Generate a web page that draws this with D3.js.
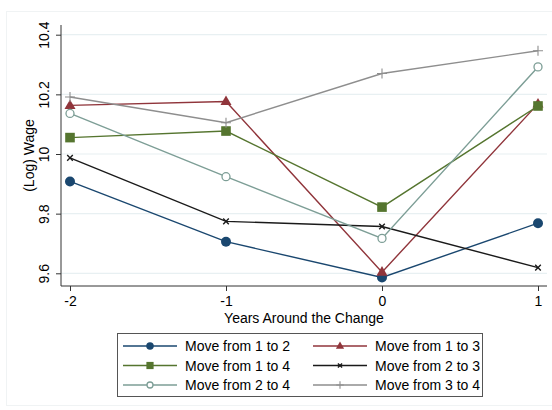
<!DOCTYPE html>
<html>
<head>
<meta charset="utf-8">
<script src="https://cdn.jsdelivr.net/npm/d3@7"></script>
<style>
  html, body { margin: 0; padding: 0; background: #fff; }
  svg { display: block; font-family: "Liberation Sans", Arial, sans-serif; }
</style>
</head>
<body>
<svg id="chart" width="552" height="410"></svg>
<script>
// Years relative to the occupational change
const years = [-2, -1, 0, 1];
const yTicks = [9.6, 9.8, 10, 10.2, 10.4];

// Mean log wage by move type
const move12 = [9.908, 9.706, 9.586, 9.768];
const move13 = [10.163, 10.176, 9.604, 10.168];
const move14 = [10.055, 10.077, 9.822, 10.161];
const move23 = [9.987, 9.774, 9.757, 9.619];
const move24 = [10.136, 9.924, 9.717, 10.292];
const move34 = [10.191, 10.105, 10.270, 10.346];

const seriesNames = ["Move from 1 to 2", "Move from 1 to 3", "Move from 1 to 4",
                     "Move from 2 to 3", "Move from 2 to 4", "Move from 3 to 4"];
const seriesValues = [move12, move13, move14, move23, move24, move34];

const styles = [
  { color: "#1a476f", symbol: "circle" },
  { color: "#90353b", symbol: "triangle" },
  { color: "#55752f", symbol: "square" },
  { color: "#1a1a1a", symbol: "x" },
  { color: "#7d9e96", symbol: "hollow" },
  { color: "#8e8e8e", symbol: "plus" }
];

const svg = d3.select("#chart");
const fs = 14;

// faint outer frame of the graph region
svg.append("rect").attr("x", 6.5).attr("y", 11.5).attr("width", 560).attr("height", 394)
  .attr("fill", "none").attr("stroke", "#f0f3f4");

const x = d3.scaleLinear().domain([-2, 1]).range([70, 538]);
const y = d3.scaleLinear().domain([9.6, 10.4]).range([273.3, 34.7]);
const plotLeft = 61, plotRight = 547, plotBottom = 286, plotTop = 25;

// horizontal grid
svg.append("g").selectAll("line").data(yTicks).join("line")
  .attr("x1", plotLeft).attr("x2", plotRight)
  .attr("y1", d => y(d)).attr("y2", d => y(d))
  .attr("stroke", "#e8f0f2").attr("stroke-width", 1.2);

// y axis
const yAxis = svg.append("g").attr("transform", `translate(${plotLeft},0)`)
  .call(d3.axisLeft(y).tickValues(yTicks).tickSize(5).tickFormat(d => String(d)));
yAxis.select(".domain").attr("d", `M0,${plotTop}V${plotBottom}`).attr("stroke", "#333");
yAxis.selectAll(".tick line").attr("stroke", "#333");
yAxis.selectAll(".tick text")
  .attr("font-size", fs).attr("fill", "#000")
  .attr("x", null).attr("dy", null)
  .attr("text-anchor", "middle")
  .attr("transform", "translate(-12.5,0) rotate(-90)");

// x axis (plain hyphen for negative years)
const xAxis = svg.append("g").attr("transform", `translate(0,${plotBottom})`)
  .call(d3.axisBottom(x).tickValues(years).tickSize(5).tickFormat(d => String(d)));
xAxis.select(".domain").attr("d", `M${plotLeft},0H${plotRight}`).attr("stroke", "#333");
xAxis.selectAll(".tick line").attr("stroke", "#333");
xAxis.selectAll(".tick text").attr("font-size", fs).attr("fill", "#000").attr("y", 10);

// axis titles
svg.append("text").attr("x", 304).attr("y", 323).attr("text-anchor", "middle")
  .attr("font-size", fs).text("Years Around the Change");
svg.append("text").attr("transform", `translate(34,${(plotTop + plotBottom) / 2}) rotate(-90)`)
  .attr("text-anchor", "middle").attr("font-size", fs).text("(Log) Wage");

function drawMarker(g, sym, color, cx, cy, s) {
  if (sym === "circle") {
    g.append("circle").attr("cx", cx).attr("cy", cy).attr("r", 5 * s).attr("fill", color);
  } else if (sym === "hollow") {
    g.append("circle").attr("cx", cx).attr("cy", cy).attr("r", 4 * s)
      .attr("fill", "#fff").attr("stroke", color).attr("stroke-width", 1.3);
  } else if (sym === "square") {
    const h = 4.8 * s;
    g.append("rect").attr("x", cx - h).attr("y", cy - h).attr("width", 2 * h).attr("height", 2 * h)
      .attr("fill", color);
  } else if (sym === "triangle") {
    const r = 6 * s;
    g.append("path")
      .attr("d", `M${cx},${cy - r}L${cx + r * 0.92},${cy + r * 0.6}L${cx - r * 0.92},${cy + r * 0.6}Z`)
      .attr("fill", color);
  } else if (sym === "x") {
    const h = 2.8 * s;
    g.append("path").attr("d", `M${cx - h},${cy - h}L${cx + h},${cy + h}M${cx - h},${cy + h}L${cx + h},${cy - h}`)
      .attr("stroke", color).attr("stroke-width", 1.4);
  } else if (sym === "plus") {
    const h = 5 * s;
    g.append("path").attr("d", `M${cx - h},${cy}H${cx + h}M${cx},${cy - h}V${cy + h}`)
      .attr("stroke", color).attr("stroke-width", 1.1);
  }
}

const line = d3.line().x((d, i) => x(years[i])).y(d => y(d));

seriesValues.forEach((vals, k) => {
  const st = styles[k];
  const g = svg.append("g");
  g.append("path").datum(vals).attr("d", line)
    .attr("fill", "none").attr("stroke", st.color).attr("stroke-width", 1.4);
  vals.forEach((v, i) => drawMarker(g, st.symbol, st.color, x(years[i]), y(v), 1));
});

// legend
const legend = svg.append("g");
legend.append("rect").attr("x", 117.5).attr("y", 333.5).attr("width", 365).attr("height", 63)
  .attr("fill", "#fff").attr("stroke", "#555");
seriesNames.forEach((name, k) => {
  const col = k % 2, row = Math.floor(k / 2);
  const lx = col === 0 ? 123 : 313;
  const ly = 346 + row * 19.5;
  const st = styles[k];
  const g = legend.append("g");
  g.append("line").attr("x1", lx).attr("x2", lx + 54).attr("y1", ly).attr("y2", ly)
    .attr("stroke", st.color).attr("stroke-width", 1.4);
  drawMarker(g, st.symbol, st.color, lx + 27, ly, 0.75);
  g.append("text").attr("x", lx + 62).attr("y", ly + 5).attr("font-size", fs).text(name);
});
</script>
</body>
</html>
